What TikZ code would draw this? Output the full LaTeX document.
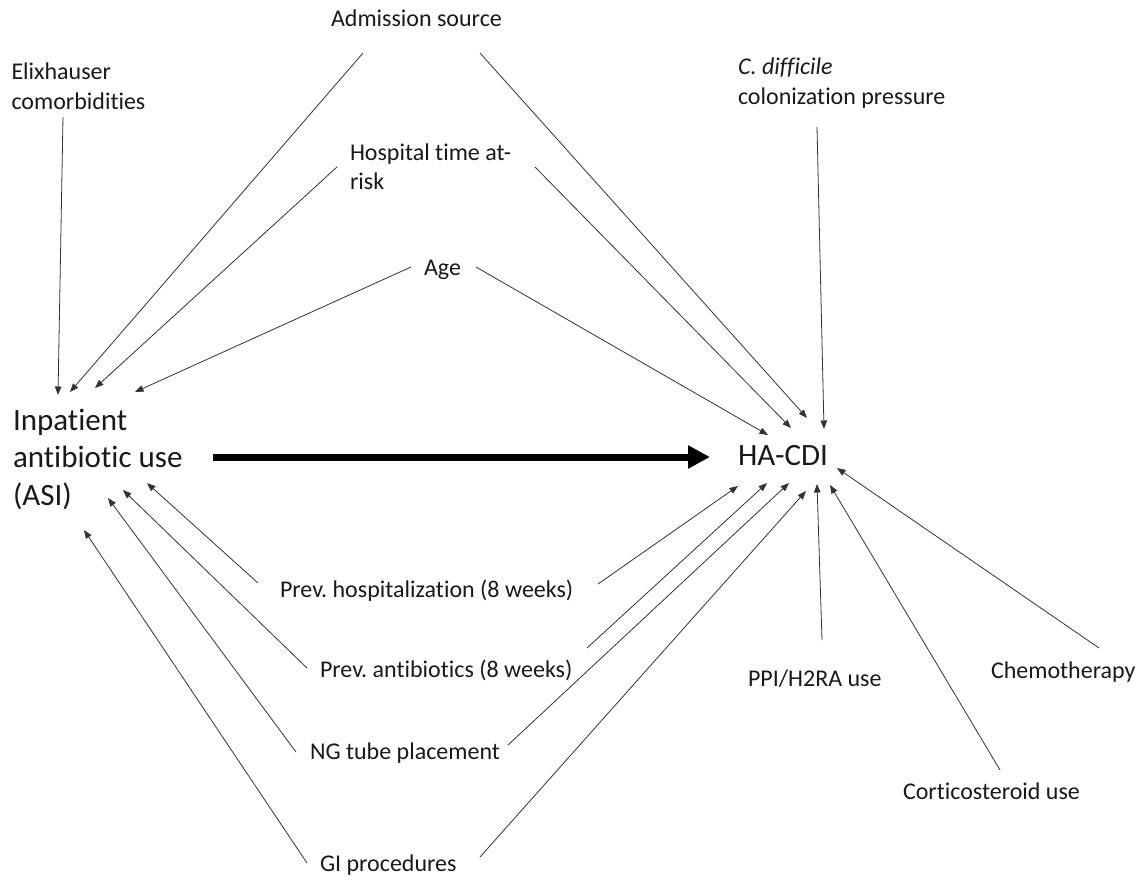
\documentclass[tikz,border=0pt]{standalone}
\usepackage{fontspec}
\setmainfont{Carlito}[Ligatures=NoCommon]
\usetikzlibrary{arrows.meta}
\frenchspacing
\begin{document}
\begin{tikzpicture}[x=1pt,y=-1pt,
  lbl/.style={inner sep=0pt,outer sep=0pt,anchor=north west,align=left,
    font=\fontsize{24}{29.3}\selectfont\frenchspacing,text=black!90},
  big/.style={inner sep=0pt,outer sep=0pt,anchor=north west,align=left,
    font=\fontsize{31}{37.8}\selectfont\frenchspacing,text=black!90},
  arr/.style={draw=black!80,line width=0.8pt,-{Triangle[length=8.5pt,width=6.5pt]}},
  thick arr/.style={draw=black,line width=7pt,-{Triangle[length=22pt,width=22pt]}}
]
\useasboundingbox (0,0) rectangle (1147,880);
\newcommand{\sst}{\rule{0pt}{20pt}}
\newcommand{\bst}{\rule{0pt}{26pt}}
% labels (north west = baseline of first line minus strut height)
\node[lbl] (adm)   at (331,7)   {\sst Admission source};
\node[lbl] (elix)  at (11.5,60) {\sst Elixhauser\\comorbidities};
\node[lbl] (hosp)  at (350,140) {\sst Hospital time at-\\risk};
\node[lbl] (age)   at (424,255) {\sst Age};
\node[lbl] (cdiff) at (738,55)  {\sst\textit{C. difficile}\\colonization pressure};
\node[big] (asi)   at (13,404)  {\bst Inpatient\\antibiotic use\\(ASI)};
\node[big] (hacdi) at (738,439) {\bst HA-CDI};
\node[lbl] (prevh) at (280,577) {\sst Prev. hospitalization (8 weeks)};
\node[lbl] (preva) at (320,657) {\sst Prev. antibiotics (8 weeks)};
\node[lbl] (ng)    at (310,739) {\sst NG tube placement};
\node[lbl] (gi)    at (320,851) {\sst GI procedures};
\node[lbl] (ppi)   at (748,666) {\sst PPI/H2RA use};
\node[lbl] (chemo) at (991,658) {\sst Chemotherapy};
\node[lbl] (cort)  at (903,779) {\sst Corticosteroid use};
% connector end points
\coordinate (elix-o) at (63,117);
\coordinate (adm-l)  at (363,53);
\coordinate (adm-r)  at (480,53);
\coordinate (hosp-l) at (337,167);
\coordinate (hosp-r) at (535,167);
\coordinate (age-l)  at (411,267);
\coordinate (age-r)  at (476,267);
\coordinate (cdiff-o) at (817,127);
\coordinate (prevh-l) at (258,583);
\coordinate (prevh-r) at (598,584);
\coordinate (preva-l) at (307,668);
\coordinate (preva-r) at (587,648);
\coordinate (ng-l) at (296,752);
\coordinate (ng-r) at (508,745);
\coordinate (gi-l) at (307,863);
\coordinate (gi-r) at (480,857);
\coordinate (ppi-o) at (822,640);
\coordinate (cort-o) at (1000,770);
\coordinate (chemo-o) at (1099,648);
% tips at ASI
\coordinate (asi-1) at (58,395);
\coordinate (asi-2) at (70,392);
\coordinate (asi-3) at (95,388);
\coordinate (asi-4) at (135,392);
\coordinate (asi-5) at (147,483);
\coordinate (asi-6) at (123,490);
\coordinate (asi-7) at (108,498);
\coordinate (asi-8) at (84,530);
\coordinate (asi-o) at (213,457);
% tips at HA-CDI
\coordinate (ha-1) at (807,418);
\coordinate (ha-2) at (791,428);
\coordinate (ha-3) at (768,435);
\coordinate (ha-4) at (824,429);
\coordinate (ha-5) at (738,486);
\coordinate (ha-6) at (767,483);
\coordinate (ha-7) at (789,483);
\coordinate (ha-8) at (806,491);
\coordinate (ha-9) at (817,484);
\coordinate (ha-10) at (830,485);
\coordinate (ha-11) at (837,468);
\coordinate (ha-i) at (710,457);
% connectors
\draw[arr] (elix-o) -- (asi-1);
\draw[arr] (adm-l) -- (asi-2);
\draw[arr] (hosp-l) -- (asi-3);
\draw[arr] (age-l) -- (asi-4);
\draw[arr] (prevh-l) -- (asi-5);
\draw[arr] (preva-l) -- (asi-6);
\draw[arr] (ng-l) -- (asi-7);
\draw[arr] (gi-l) -- (asi-8);
\draw[arr] (adm-r) -- (ha-1);
\draw[arr] (hosp-r) -- (ha-2);
\draw[arr] (age-r) -- (ha-3);
\draw[arr] (cdiff-o) -- (ha-4);
\draw[arr] (prevh-r) -- (ha-5);
\draw[arr] (preva-r) -- (ha-6);
\draw[arr] (ng-r) -- (ha-7);
\draw[arr] (gi-r) -- (ha-8);
\draw[arr] (ppi-o) -- (ha-9);
\draw[arr] (cort-o) -- (ha-10);
\draw[arr] (chemo-o) -- (ha-11);
\draw[thick arr] (asi-o) -- (ha-i);
\end{tikzpicture}
\end{document}
